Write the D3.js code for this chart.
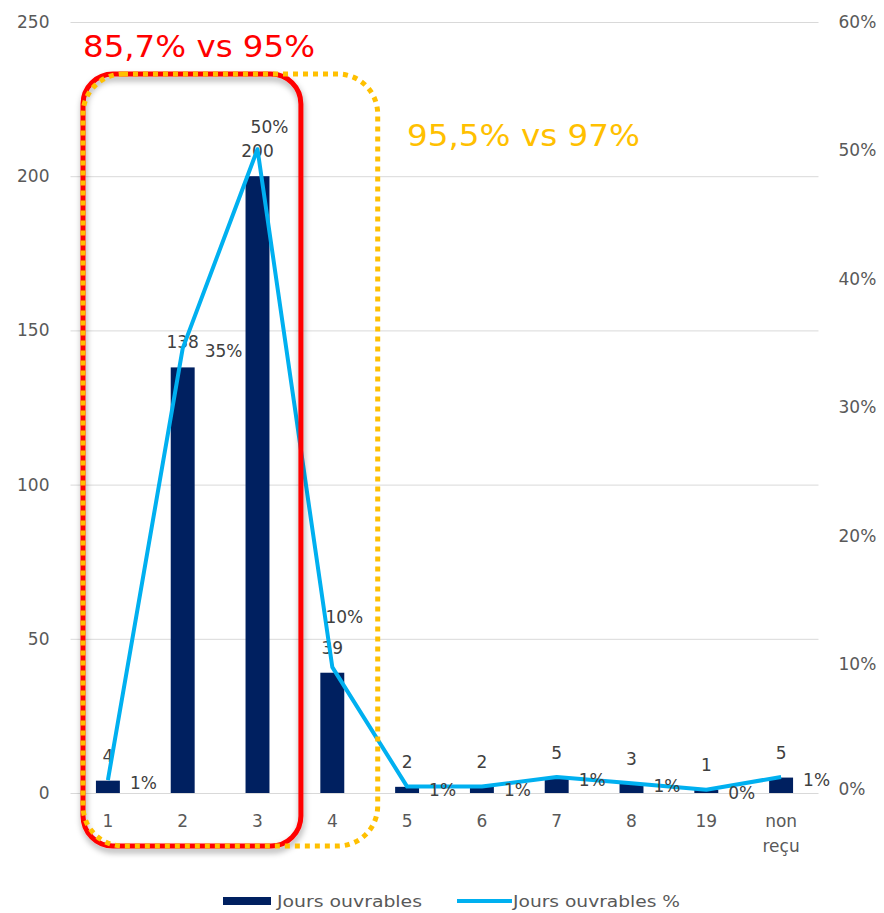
<!DOCTYPE html>
<html>
<head>
<meta charset="utf-8">
<script src="https://cdn.jsdelivr.net/npm/d3@7"></script>
<style>
  html, body { margin: 0; padding: 0; background: #fff; }
  svg { display: block; font-family: "DejaVu Sans", sans-serif; }
</style>
</head>
<body>
<svg id="chart" width="884" height="913"></svg>
<script>
// Délai de traitement en jours ouvrables
const categories = ["1", "2", "3", "4", "5", "6", "7", "8", "19", "non reçu"];
const counts = [4, 138, 200, 39, 2, 2, 5, 3, 1, 5];
const shares = [0.010, 0.346, 0.501, 0.098, 0.005, 0.005, 0.0125, 0.0075, 0.0025, 0.0125];
const countTicks = [0, 50, 100, 150, 200, 250];
const shareTicks = [0, 0.1, 0.2, 0.3, 0.4, 0.5, 0.6];
const seriesNames = ["Jours ouvrables", "Jours ouvrables %"];
const callouts = ["85,7% vs 95%", "95,5% vs 97%"];

const svg = d3.select("#chart");
const plot = { left: 70.5, right: 818.5, top: 22, bottom: 793 };

const x = d3.scaleBand().domain(categories).range([plot.left, plot.right]).padding(0);
const yCount = d3.scaleLinear().domain([0, 250]).range([plot.bottom, plot.top]);
const yShare = d3.scaleLinear().domain([0, 0.6]).range([plot.bottom, plot.top]);

const barColor = "#002060";
const lineColor = "#00B0F0";
const textColor = "#595959";
const labelColor = "#404040";

// gridlines
svg.append("g")
  .selectAll("line")
  .data(countTicks)
  .join("line")
  .attr("x1", plot.left).attr("x2", plot.right)
  .attr("y1", d => yCount(d) + 0.5).attr("y2", d => yCount(d) + 0.5)
  .attr("stroke", "#d9d9d9").attr("stroke-width", 1);

// left axis
const leftAxis = svg.append("g")
  .attr("transform", `translate(${plot.left},0)`)
  .call(d3.axisLeft(yCount).tickValues(countTicks).tickSize(0).tickPadding(21));
leftAxis.select(".domain").remove();
leftAxis.selectAll("text").attr("fill", textColor).style("font-size", "17px")
  .style("font-family", "DejaVu Sans");

// right axis
const rightAxis = svg.append("g")
  .attr("transform", `translate(${plot.right},0)`)
  .call(d3.axisRight(yShare).tickValues(shareTicks).tickFormat(d3.format(".0%")).tickSize(0).tickPadding(20));
rightAxis.select(".domain").remove();
rightAxis.selectAll("text").attr("fill", textColor).style("font-size", "17px")
  .style("font-family", "DejaVu Sans")
  .attr("dy", (d) => d === 0 ? "0.1em" : "0.32em");

// category axis
const bottomAxis = svg.append("g")
  .attr("transform", `translate(0,${plot.bottom})`)
  .call(d3.axisBottom(x).tickSize(0).tickPadding(22));
bottomAxis.select(".domain").remove();
bottomAxis.selectAll("text").attr("fill", textColor).style("font-size", "17px")
  .style("font-family", "DejaVu Sans")
  .each(function(d) {
    const words = d.split(" ");
    if (words.length > 1) {
      const t = d3.select(this).text(null);
      words.forEach((w, i) => {
        t.append("tspan").attr("x", 0).attr("dy", i === 0 ? "0.71em" : "1.45em").text(w);
      });
    }
  });

// bars
const barW = x.bandwidth() * 0.32;
svg.append("g")
  .selectAll("rect")
  .data(counts)
  .join("rect")
  .attr("x", (d, i) => x(categories[i]) + x.bandwidth() / 2 - barW / 2)
  .attr("y", d => yCount(d))
  .attr("width", barW)
  .attr("height", d => plot.bottom - yCount(d))
  .attr("fill", barColor);

// bar value labels
svg.append("g")
  .selectAll("text")
  .data(counts)
  .join("text")
  .attr("x", (d, i) => x(categories[i]) + x.bandwidth() / 2)
  .attr("y", d => yCount(d) - 25)
  .attr("dy", "0.35em")
  .attr("text-anchor", "middle")
  .attr("fill", labelColor)
  .style("font-size", "17px")
  .text(d => d);

// share line
const cx = i => x(categories[i]) + x.bandwidth() / 2;
const line = d3.line().x((d, i) => cx(i)).y(d => yShare(d));
svg.append("path")
  .datum(shares)
  .attr("d", line)
  .attr("fill", "none")
  .attr("stroke", lineColor)
  .attr("stroke-width", 4)
  .attr("stroke-linejoin", "round");

// share labels: peaks sit above their point, the rest to the right
const pct = v => Math.round(v * 100) + "%";
const isPeak = i => i === 2 || i === 3;
svg.append("g")
  .selectAll("text")
  .data(shares)
  .join("text")
  .attr("x", (d, i) => isPeak(i) ? cx(i) + 12 : cx(i) + 22)
  .attr("y", (d, i) => isPeak(i) ? yShare(d) - (i === 2 ? 22 : 50) : yShare(d) + 3)
  .attr("dy", "0.35em")
  .attr("text-anchor", (d, i) => isPeak(i) ? "middle" : "start")
  .attr("fill", labelColor)
  .style("font-size", "17px")
  .text(d => pct(d));

// callout boxes around the first categories
const defs = svg.append("defs");
defs.append("filter").attr("id", "shadow")
  .attr("x", "-10%").attr("y", "-10%").attr("width", "130%").attr("height", "130%")
  .append("feDropShadow")
  .attr("dx", 1).attr("dy", 4).attr("stdDeviation", 3)
  .attr("flood-color", "#000").attr("flood-opacity", 0.35);

const boxTop = 74, boxBottom = 846;
const boxLeft = x(categories[0]) + 12.5;
const redRight = x(categories[2]) + x.bandwidth() + 6;
const yellowRight = x(categories[3]) + x.bandwidth() + 8;

svg.append("rect")
  .attr("x", boxLeft).attr("y", boxTop)
  .attr("width", redRight - boxLeft).attr("height", boxBottom - boxTop)
  .attr("rx", 30).attr("ry", 30)
  .attr("fill", "none").attr("stroke", "#FF0000").attr("stroke-width", 5)
  .attr("filter", "url(#shadow)");

svg.append("rect")
  .attr("x", boxLeft).attr("y", boxTop)
  .attr("width", yellowRight - boxLeft).attr("height", boxBottom - boxTop)
  .attr("rx", 40).attr("ry", 40)
  .attr("fill", "none").attr("stroke", "#FFC000").attr("stroke-width", 5)
  .attr("stroke-dasharray", "5 5");

// callout texts
svg.append("text")
  .attr("x", boxLeft).attr("y", 57)
  .attr("fill", "#FF0000")
  .style("font-size", "31px")
  .attr("textLength", 232).attr("lengthAdjust", "spacingAndGlyphs")
  .text(callouts[0]);

svg.append("text")
  .attr("x", 407).attr("y", 146)
  .attr("fill", "#FFC000")
  .style("font-size", "31px")
  .attr("textLength", 233).attr("lengthAdjust", "spacingAndGlyphs")
  .text(callouts[1]);

// legend
const legend = svg.append("g");
legend.append("rect")
  .attr("x", 223).attr("y", 897).attr("width", 48).attr("height", 8)
  .attr("fill", barColor);
legend.append("text")
  .attr("x", 277).attr("y", 901).attr("dy", "0.35em")
  .attr("fill", textColor).style("font-size", "16px")
  .attr("textLength", 145).attr("lengthAdjust", "spacingAndGlyphs")
  .text(seriesNames[0]);
legend.append("line")
  .attr("x1", 457).attr("x2", 512).attr("y1", 901).attr("y2", 901)
  .attr("stroke", lineColor).attr("stroke-width", 4);
legend.append("text")
  .attr("x", 513).attr("y", 901).attr("dy", "0.35em")
  .attr("fill", textColor).style("font-size", "16px")
  .attr("textLength", 167).attr("lengthAdjust", "spacingAndGlyphs")
  .text(seriesNames[1]);
</script>
</body>
</html>
